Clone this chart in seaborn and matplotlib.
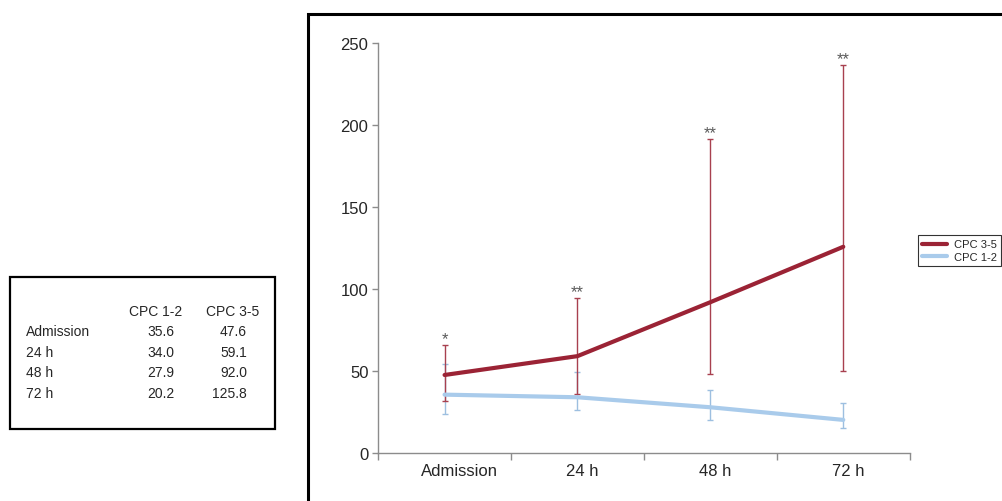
import matplotlib
matplotlib.use("Agg")
import matplotlib.pyplot as plt
import matplotlib.transforms as mtransforms
from matplotlib.patches import Rectangle
import numpy as np
import pandas as pd
import seaborn as sns

# Time points and group summaries
timepoints = ["Admission", "24 h", "48 h", "72 h"]
groups = ["CPC 3-5", "CPC 1-2"]

cpc35_mean = [47.6, 59.1, 92.0, 125.8]
cpc35_upper = [66.0, 94.5, 191.5, 236.5]
cpc35_lower = [31.5, 36.0, 48.5, 50.0]

cpc12_mean = [35.6, 34.0, 27.9, 20.2]
cpc12_upper = [54.5, 49.5, 38.5, 30.5]
cpc12_lower = [23.5, 26.0, 20.0, 15.0]

significance = ["*", "**", "**", "**"]

colors = {"CPC 3-5": "#9b2335", "CPC 1-2": "#a9cbeb"}
err_colors = {"CPC 3-5": "#a8404f", "CPC 1-2": "#9dbfe0"}

sns.set_theme(style="white")
plt.rcParams["font.family"] = ["Liberation Sans", "DejaVu Sans"]

x = np.arange(len(timepoints))
df = pd.DataFrame({
    "x": np.concatenate([x, x]),
    "value": cpc35_mean + cpc12_mean,
    "group": ["CPC 3-5"] * len(x) + ["CPC 1-2"] * len(x),
})

fig = plt.figure(figsize=(10.03, 5.02), dpi=100)
ax = fig.add_axes([0.377, 0.0956, 0.53, 0.8164])

# Error bars (asymmetric ranges) drawn beneath the lines
for name, mean, lo, hi in [("CPC 1-2", cpc12_mean, cpc12_lower, cpc12_upper),
                           ("CPC 3-5", cpc35_mean, cpc35_lower, cpc35_upper)]:
    mean = np.array(mean)
    yerr = np.vstack([mean - np.array(lo), np.array(hi) - mean])
    ax.errorbar(x, mean, yerr=yerr, fmt="none", ecolor=err_colors[name],
                elinewidth=1.0, capsize=2.2, capthick=1.0, zorder=2)

sns.lineplot(data=df, x="x", y="value", hue="group", hue_order=groups,
             palette=colors, linewidth=3.0, ax=ax, legend=False, zorder=3,
             sort=False)

# Significance markers above the upper whiskers
for xi, top, mark in zip(x, cpc35_upper, significance):
    ax.annotate(mark, (xi, top), xytext=(0, 4.5), textcoords="offset points",
                ha="center", va="center", fontsize=12, color="#5a5a5a")

ax.set_xlim(-0.5, len(timepoints) - 0.5)
ax.set_ylim(0, 250)
ax.set_yticks([0, 50, 100, 150, 200, 250])
ax.set_xticks(x)
ax.set_xticklabels(timepoints)
ax.set_xticks(np.arange(-0.5, len(timepoints)), minor=True)
ax.set_xlabel("")
ax.set_ylabel("")

for side in ["top", "right"]:
    ax.spines[side].set_visible(False)
for side in ["left", "bottom"]:
    ax.spines[side].set_color("#8c8c8c")
    ax.spines[side].set_linewidth(1.0)

ax.tick_params(axis="y", which="major", direction="out", length=4, width=1,
               color="#8c8c8c", labelsize=12, pad=3, left=True)
ax.tick_params(axis="x", which="major", length=0, labelsize=12, pad=7)
ax.tick_params(axis="x", which="minor", direction="out", length=5, width=1,
               color="#8c8c8c", bottom=True)

# Category labels sit a little right of their centres
shifts = [15, 5, 5, 5]
for lbl, dx in zip(ax.get_xticklabels(), shifts):
    lbl.set_transform(lbl.get_transform() +
                      mtransforms.ScaledTranslation(dx / 100, 0, fig.dpi_scale_trans))

# Legend
handles = [plt.Line2D([], [], color=colors[g], linewidth=3) for g in groups]
leg = fig.legend(handles, groups, loc="upper left",
                 bbox_to_anchor=(918 / 1003, 1 - 236 / 502),
                 fontsize=8, frameon=True, fancybox=False,
                 handlelength=2.2, handletextpad=0.6, borderpad=0.4,
                 labelspacing=0.2, borderaxespad=0)
leg.get_frame().set_edgecolor("black")
leg.get_frame().set_linewidth(0.8)

# Frame around the chart panel
fig.patches.append(Rectangle((308 / 1003, -0.05), 0.75, 1 - 15 / 502 + 0.05,
                             transform=fig.transFigure, fill=False,
                             edgecolor="black", linewidth=2.2, clip_on=False))

# Summary table of group means
fig.patches.append(Rectangle((10 / 1003, 1 - 430 / 502), 265 / 1003, 152 / 502,
                             transform=fig.transFigure, fill=False,
                             edgecolor="black", linewidth=1.6))


def fx(px):
    return px / 1003


def fy(py):
    return 1 - py / 502


tsize = 10
fig.text(fx(156), fy(312), "CPC 1-2", ha="center", va="center", fontsize=tsize)
fig.text(fx(233), fy(312), "CPC 3-5", ha="center", va="center", fontsize=tsize)
for i, label in enumerate(timepoints):
    y = 332 + 20.7 * i
    fig.text(fx(26), fy(y), label, ha="left", va="center", fontsize=tsize)
    fig.text(fx(174), fy(y), f"{cpc12_mean[i]:.1f}", ha="right", va="center",
             fontsize=tsize)
    fig.text(fx(247), fy(y), f"{cpc35_mean[i]:.1f}", ha="right", va="center",
             fontsize=tsize)

fig.savefig("out.png", dpi=100)
